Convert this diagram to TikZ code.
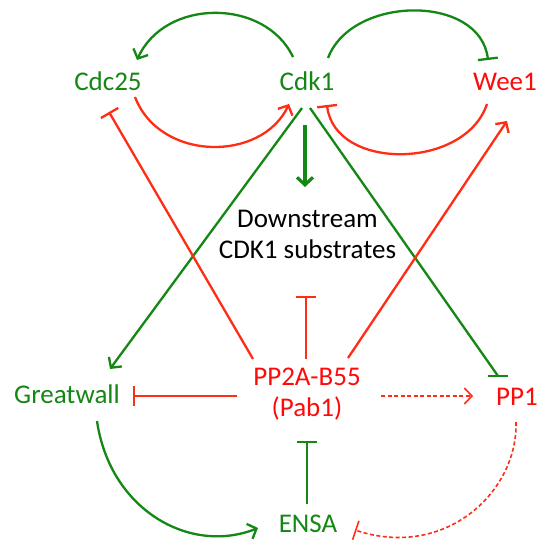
\documentclass[tikz,border=0pt]{standalone}
\usepackage{fontspec}
\setmainfont{Carlito}
\usetikzlibrary{arrows.meta,calc}
\definecolor{gr}{RGB}{20,135,20}
\definecolor{rdtext}{RGB}{255,10,10}
\definecolor{rdline}{RGB}{255,45,20}
\begin{document}
\begin{tikzpicture}[x=1pt,y=-1pt,
  lbl/.style={font=\fontsize{27}{30.5}\selectfont, inner sep=0pt, anchor=base, align=center},
  gtext/.style={lbl, text=gr},
  rtext/.style={lbl, text=rdtext},
  gline/.style={draw=gr, line width=2.3pt},
  rline/.style={draw=rdline, line width=2.3pt},
  rdash/.style={draw=rdline, line width=1.6pt, dash pattern=on 4pt off 2.5pt},
  act/.style={-{Straight Barb[length=7.5pt,width=16pt]}},
  inh/.style={-{Bar[width=20pt]}},
]
\useasboundingbox (0,0) rectangle (539,543);
\fill[white] (0,0) rectangle (539,543);

% nodes (base anchor = baseline of the last line)
\node[gtext] (cdc25) at (108,90) {Cdc25};
\node[gtext] (cdk1) at (307,90) {Cdk1};
\node[rtext] (wee1) at (505,90) {Wee1};
\node[lbl] (down) at (307.5,258) {Downstream\\CDK1 substrates};
\node[gtext] (gwl) at (67,403) {Greatwall};
\node[rtext] (pp2a) at (307,416) {PP2A-B55\\(Pab1)};
\node[rtext] (pp1) at (517,405) {PP1};
\node[gtext] (ensa) at (308,532) {ENSA};

% top arcs
\draw[gline,act] ($(cdk1.base)+(-14,-33)$) .. controls +(-28,-59) and +(28,-62) .. ($(cdc25.base)+(29,-30)$);
\draw[gline,inh] ($(cdk1.base)+(21,-32)$) .. controls +(24,-63) and +(-8,-66) .. ($(wee1.base)+(-17,-30)$);
\draw[rline,act] ($(cdc25.base)+(27,7)$) .. controls +(25,65) and +(-27,58) .. ($(cdk1.base)+(-18,14)$);
\draw[rline,inh] ($(wee1.base)+(-18,14)$) .. controls +(-22,66) and +(8,66) .. ($(cdk1.base)+(20,15)$);

% Cdk1 outputs
\draw[draw=gr, line width=3.2pt, -{Straight Barb[length=7.5pt,width=16pt]}] ($(cdk1.base)+(-2,35)$) -- ($(down.base)+(-2.5,-71)$);
\draw[gline,act] ($(cdk1.base)+(-5,18)$) -- ($(gwl.base)+(43,-34)$);
\draw[gline] ($(cdk1.base)+(3,18)$) -- coordinate[pos=1] (pp1bar) ($(pp1.base)+(-19,-29)$);
\draw[gline] ($(pp1bar)+(-10,0)$) -- ($(pp1bar)+(10,0)$);

% PP2A-B55 outputs
\draw[rline,inh] ($(pp2a.base)+(-54,-57)$) -- ($(cdc25.base)+(1,22)$);
\draw[rline,act] ($(pp2a.base)+(41,-58)$) -- ($(wee1.base)+(2,31)$);
\draw[rline,inh] ($(pp2a.base)+(-1,-57)$) -- ($(down.base)+(-1.5,38)$);
\draw[rline,inh] ($(pp2a.base)+(-70,-20)$) -- ($(gwl.base)+(66,-7)$);
\draw[rdash,act] ($(pp2a.base)+(74,-20)$) -- ($(pp1.base)+(-44,-9)$);

% bottom
\draw[gline,inh] ($(ensa.base)+(-1,-28)$) -- ($(pp2a.base)+(0,25)$);
\draw[gline,act] ($(gwl.base)+(30,18)$) .. controls +(13,89) and +(-68,27) .. ($(ensa.base)+(-50,-4)$);
\draw[rdash,inh] ($(pp1.base)+(-1,17)$) .. controls +(2,70) and +(90,30) .. ($(ensa.base)+(47,-2)$);
\end{tikzpicture}
\end{document}
